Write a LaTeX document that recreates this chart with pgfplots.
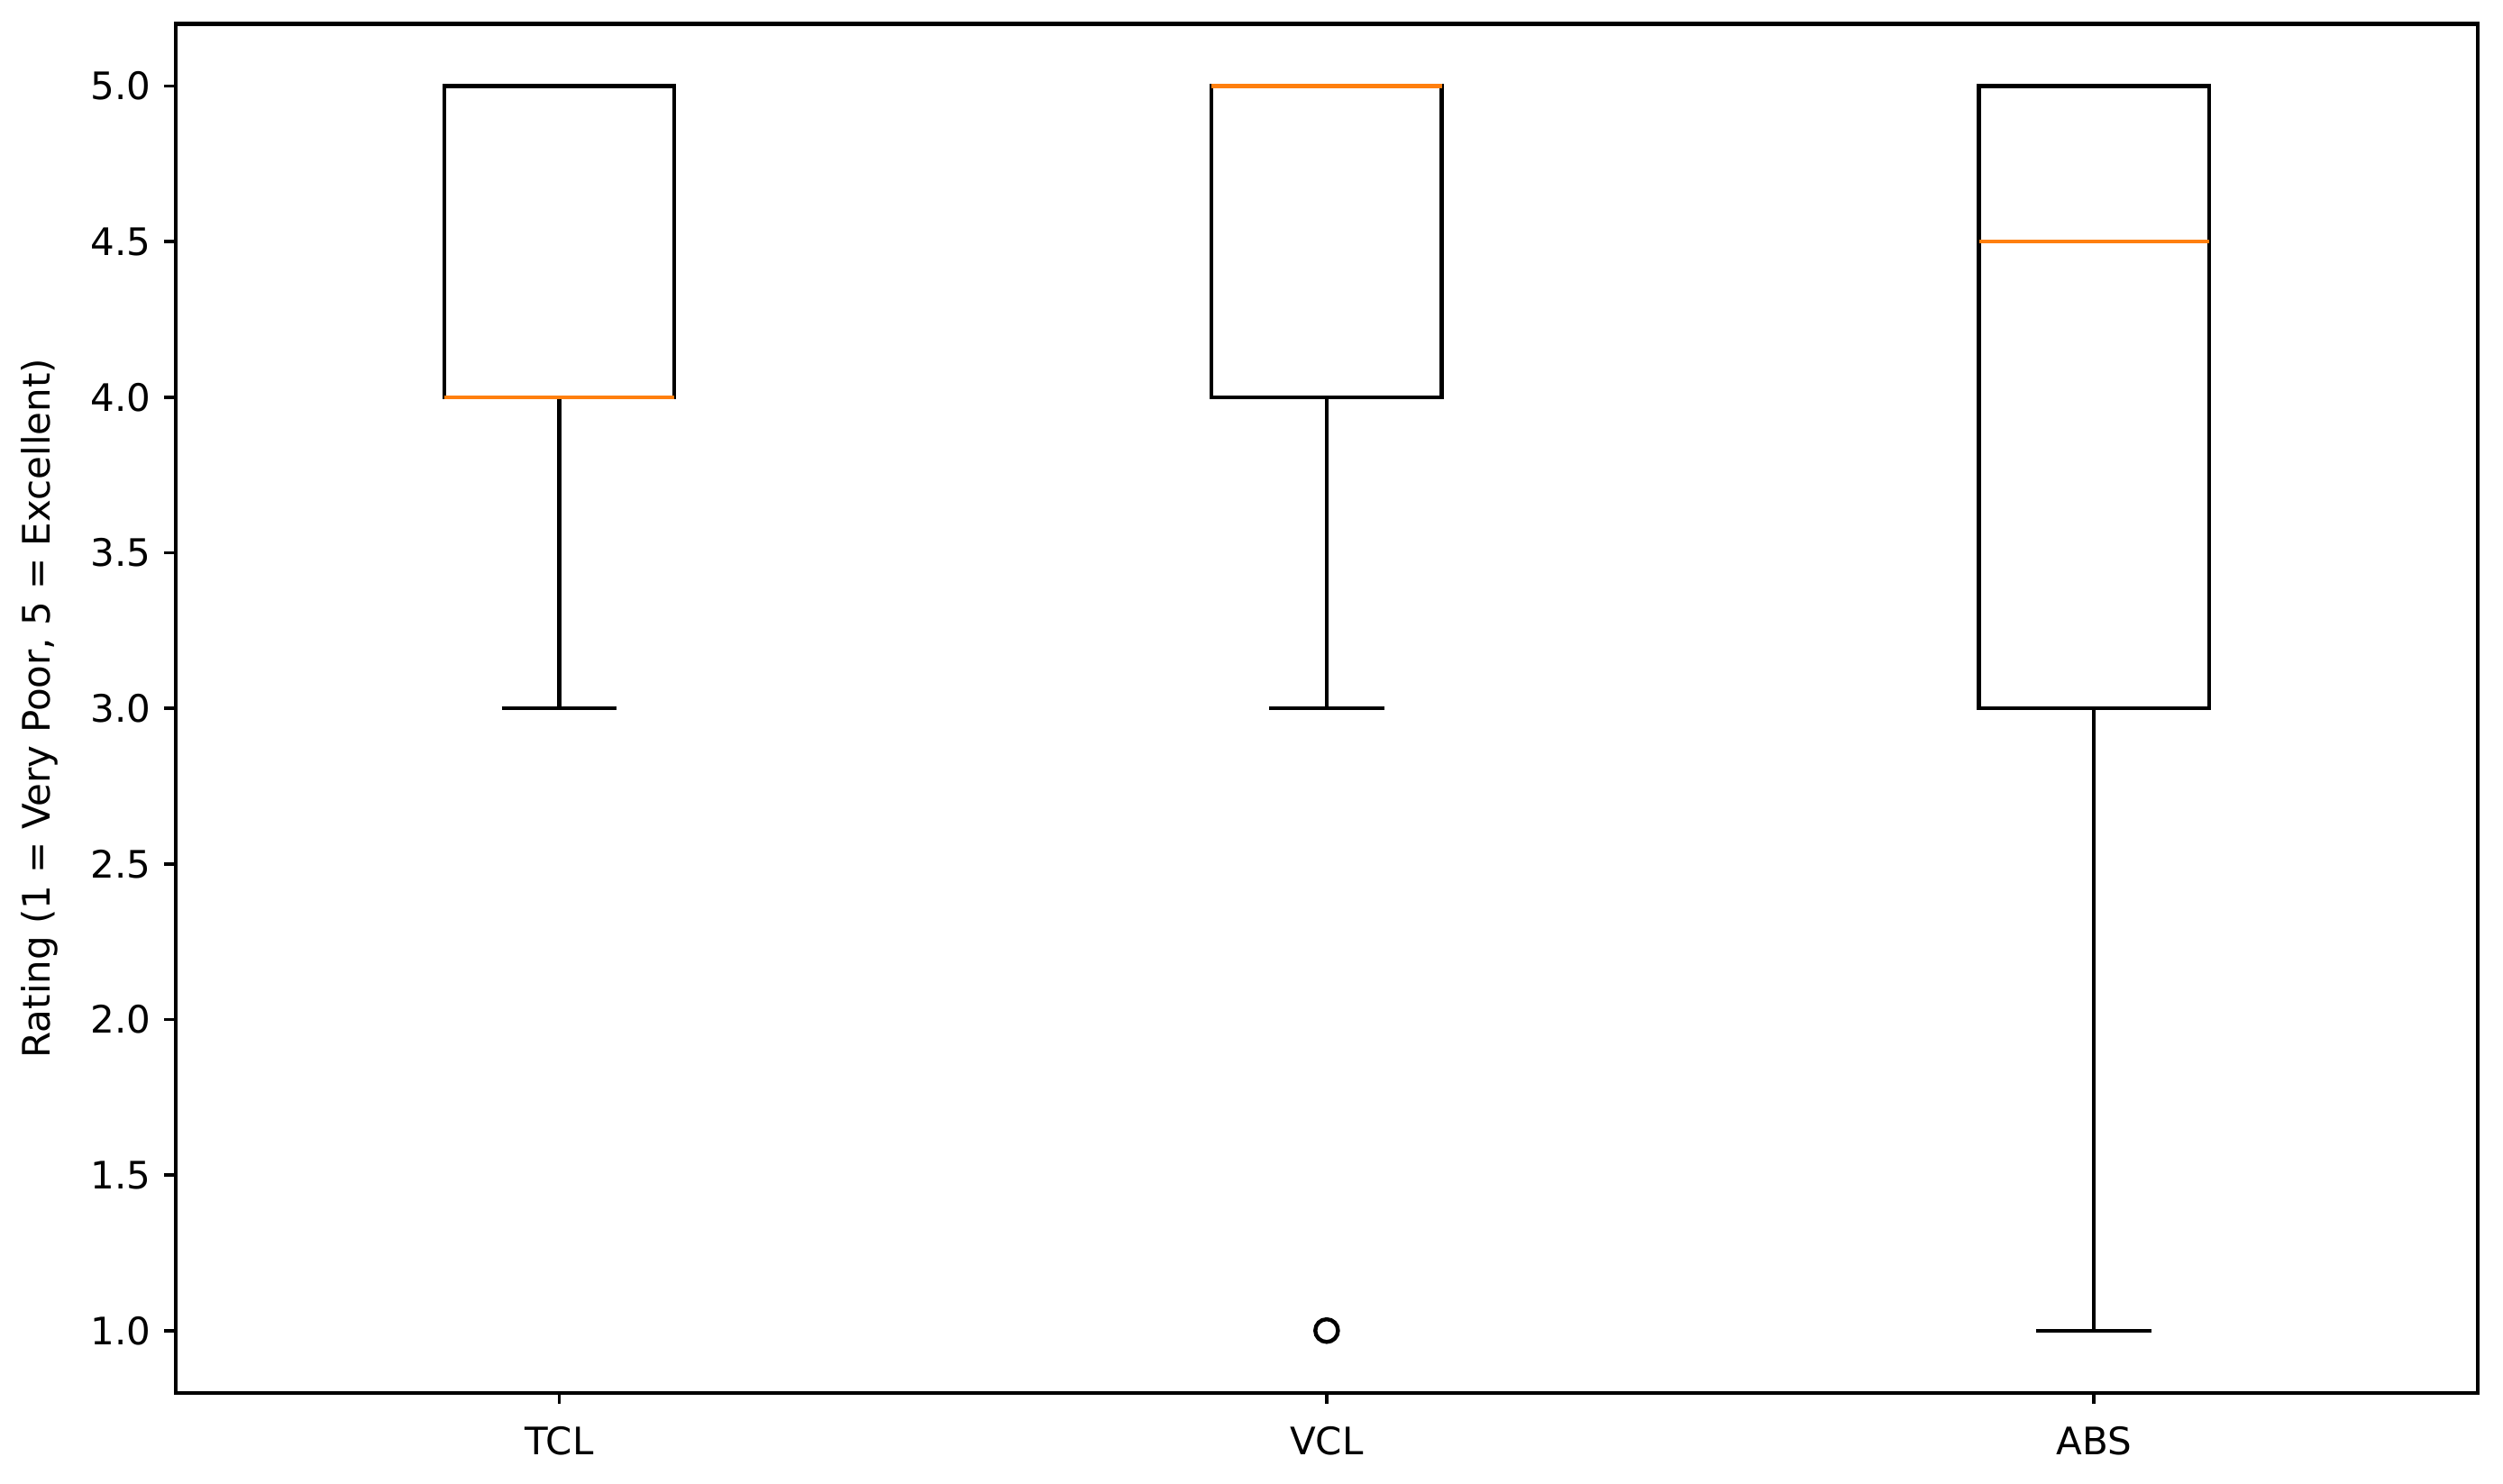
\documentclass[border=0pt]{standalone}
\usepackage{fontspec}
\setmainfont{DejaVu Sans}
\usepackage{pgfplots}
\pgfplotsset{compat=1.18}
\usepgfplotslibrary{statistics}
\usetikzlibrary{calc}
\definecolor{mplorange}{HTML}{FF7F0E}
\begin{document}
\fontsize{10}{12}\selectfont
\begin{tikzpicture}
\begin{axis}[name=ax, scale only axis, width=608pt, height=361.7pt,
  xmin=0.5, xmax=3.5, ymin=0.8, ymax=5.2,
  xtick={1,2,3}, xticklabels={TCL,VCL,ABS},
  xticklabel style={yshift=-2.5pt},
  ytick={1.0,1.5,2.0,2.5,3.0,3.5,4.0,4.5,5.0},
  yticklabel style={/pgf/number format/.cd, fixed, fixed zerofill, precision=1},
  /pgf/number format/assume math mode=true,
  tick align=outside, tick pos=left, major tick length=3pt,
  tick style={black, line width=0.9pt},
  axis line style={line width=1pt},
  ylabel={Rating (1 = Very Poor, 5 = Excellent)},
  ylabel style={at={(axis description cs:-0.059,0.5)}, anchor=center},
  boxplot/draw direction=y,
  clip=false,
]
\addplot[black, line width=1.05pt, mark=none, boxplot prepared={draw position=1,
  lower whisker=3, lower quartile=4, median=4, upper quartile=5, upper whisker=5,
  box extend=0.3, whisker extend=0.15,
  every median/.style={draw=mplorange, line width=1.05pt}}] coordinates {};
\addplot[black, line width=1.05pt, mark=o, mark size=3pt, boxplot prepared={draw position=2,
  lower whisker=3, lower quartile=4, median=5, upper quartile=5, upper whisker=5,
  box extend=0.3, whisker extend=0.15,
  every median/.style={draw=mplorange, line width=1.05pt}}] coordinates {(2,1)};
\addplot[black, line width=1.05pt, mark=none, boxplot prepared={draw position=3,
  lower whisker=1, lower quartile=3, median=4.5, upper quartile=5, upper whisker=5,
  box extend=0.3, whisker extend=0.15,
  every median/.style={draw=mplorange, line width=1.05pt}}] coordinates {};
\end{axis}
\pgfresetboundingbox
\path ($(ax.south west)+(-46.4pt,-24pt)$) rectangle ($(ax.north east)+(6.7pt,6.3pt)$);
\end{tikzpicture}
\end{document}
